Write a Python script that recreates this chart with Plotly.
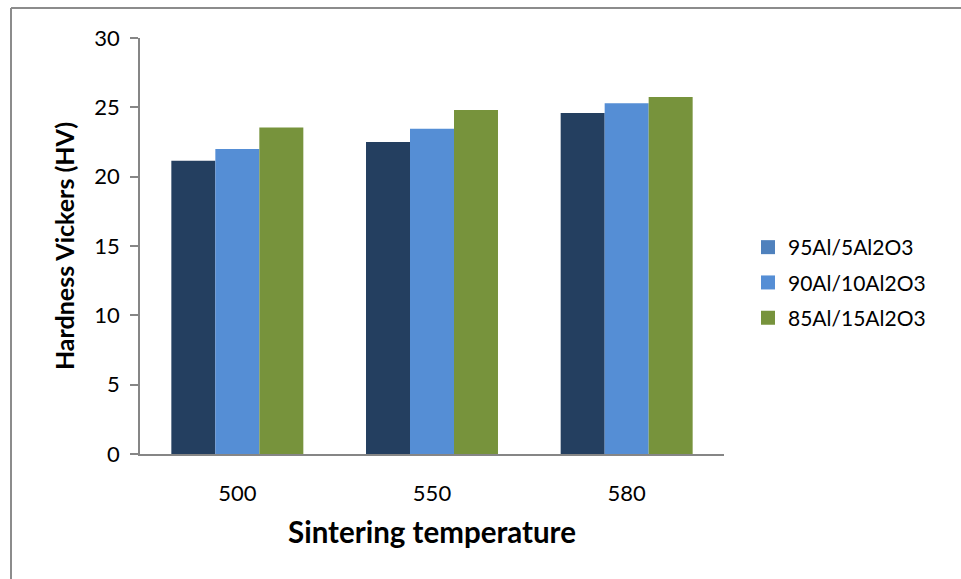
import plotly.graph_objects as go

# Sintering temperatures (°C) and Vickers hardness of each composite
temperatures = ["500", "550", "580"]
series_names = ["95Al/5Al2O3", "90Al/10Al2O3", "85Al/15Al2O3"]
hv_95_5 = [21.15, 22.5, 24.6]
hv_90_10 = [22.0, 23.45, 25.3]
hv_85_15 = [23.55, 24.8, 25.75]

bar_colors = ["#243F60", "#558ED5", "#77933C"]
legend_colors = ["#4F81BD", "#558ED5", "#77933C"]

FONT = "Lato, Calibri, Arial, sans-serif"

fig = go.Figure()
for name, vals, col in zip(series_names, [hv_95_5, hv_90_10, hv_85_15], bar_colors):
    fig.add_trace(go.Bar(x=temperatures, y=vals, name=name, marker_color=col,
                         marker_line_width=0, showlegend=False))

# legend swatches (square markers, so they don't take a bar slot)
for i, (name, col) in enumerate(zip(series_names, legend_colors)):
    fig.add_trace(go.Scatter(x=[None], y=[None], name=name, mode="markers",
                             marker=dict(symbol="square", size=14, color=col),
                             legendgroup=f"g{i}", showlegend=True))

L, T = 140, 38
PW, PH = 584, 416

def px_x(x):
    return (x - L) / PW

def px_y(y):
    return (T + PH - y) / PH

fig.update_layout(
    width=961, height=579,
    margin=dict(l=L, r=961 - L - PW, t=T, b=579 - T - PH),
    paper_bgcolor="white", plot_bgcolor="white",
    barmode="group", bargap=0.322, bargroupgap=0,
    font=dict(family=FONT, size=22, color="#000000"),
    xaxis=dict(
        showline=True, linecolor="#868686", linewidth=1.5,
        ticks="", ticklabelstandoff=19,
        tickfont=dict(size=22),
        title=dict(text="<b>Sintering temperature</b>", font=dict(size=29.5), standoff=17),
    ),
    yaxis=dict(
        range=[0, 30], dtick=5, showgrid=False, zeroline=False,
        showline=True, linecolor="#868686", linewidth=1.5,
        ticks="outside", ticklen=8, tickcolor="#868686", tickwidth=1.5,
        ticklabelstandoff=6, tickfont=dict(size=22),
        title=dict(text="<b>Hardness Vickers (HV)</b>", font=dict(size=25), standoff=13),
    ),
    legend=dict(
        x=px_x(748), y=px_y(227), xanchor="left", yanchor="top",
        font=dict(size=21), traceorder="grouped", tracegroupgap=5,
        itemwidth=30, bgcolor="rgba(0,0,0,0)",
    ),
    shapes=[
        dict(type="line", xref="paper", yref="paper",
             x0=px_x(11), x1=px_x(11), y0=px_y(8), y1=px_y(600),
             line=dict(color="#8C8C8C", width=2)),
        dict(type="line", xref="paper", yref="paper",
             x0=px_x(11), x1=px_x(1000), y0=px_y(8), y1=px_y(8),
             line=dict(color="#8C8C8C", width=2)),
    ],
)

fig.write_html("out.html")
